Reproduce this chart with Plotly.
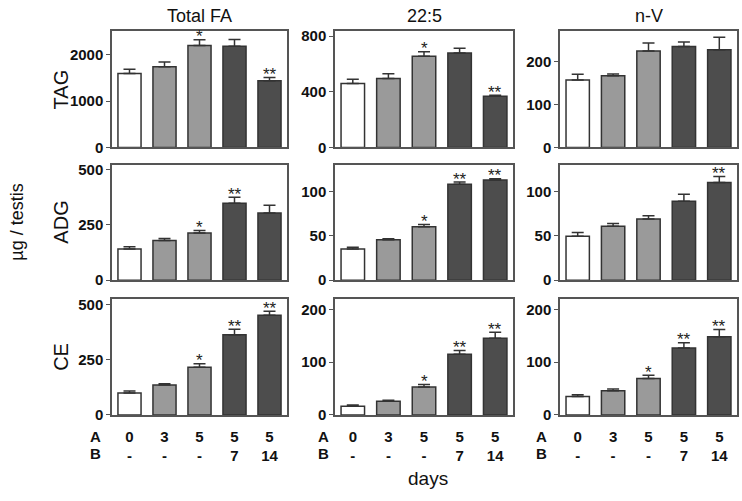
import plotly.graph_objects as go

# ---------------- data ----------------
categories = [0, 1, 2, 3, 4]
A_days = ["0", "3", "5", "5", "5"]
B_days = ["-", "-", "-", "7", "14"]
column_titles = ["Total FA", "22:5", "n-V"]
row_titles = ["TAG", "ADG", "CE"]

# TAG
tag_total = [1600, 1745, 2205, 2185, 1440]
tag_total_err = [90, 100, 125, 150, 70]
tag_total_sig = ["", "", "*", "", "**"]
tag_225 = [460, 495, 655, 680, 368]
tag_225_err = [30, 35, 33, 33, 8]
tag_225_sig = ["", "", "*", "", "**"]
tag_nv = [157, 167, 224, 235, 227]
tag_nv_err = [13, 4, 19, 10, 29]
tag_nv_sig = ["", "", "", "", ""]

# ADG
adg_total = [141, 179, 213, 348, 304]
adg_total_err = [10, 9, 12, 27, 34]
adg_total_sig = ["", "", "*", "**", ""]
adg_225 = [35.3, 45.7, 60.4, 108.2, 113]
adg_225_err = [2, 1, 2.5, 2.6, 1.5]
adg_225_sig = ["", "", "*", "**", "**"]
adg_nv = [49.7, 61, 69, 89, 110.4]
adg_nv_err = [4.3, 3, 3.8, 8, 6.6]
adg_nv_sig = ["", "", "", "", "**"]

# CE
ce_total = [99, 135, 215, 362, 450]
ce_total_err = [9, 6, 16, 25, 19]
ce_total_sig = ["", "", "*", "**", "**"]
ce_225 = [16.2, 26, 52.9, 115, 145]
ce_225_err = [2.4, 1.9, 4.9, 6.8, 11.5]
ce_225_sig = ["", "", "*", "**", "**"]
ce_nv = [34.8, 46, 68.9, 126.6, 147.9]
ce_nv_err = [3.2, 3, 6.1, 9.9, 14.1]
ce_nv_sig = ["", "", "*", "**", "**"]

y_max = [[2510, 835, 270], [520, 130, 130], [525, 220, 220]]
y_dtick = [[1000, 400, 100], [250, 50, 50], [250, 100, 100]]

bar_colors = ["#ffffff", "#9a9a9a", "#9a9a9a", "#4d4d4d", "#4d4d4d"]

panels = [
    [(tag_total, tag_total_err, tag_total_sig), (tag_225, tag_225_err, tag_225_sig), (tag_nv, tag_nv_err, tag_nv_sig)],
    [(adg_total, adg_total_err, adg_total_sig), (adg_225, adg_225_err, adg_225_sig), (adg_nv, adg_nv_err, adg_nv_sig)],
    [(ce_total, ce_total_err, ce_total_sig), (ce_225, ce_225_err, ce_225_sig), (ce_nv, ce_nv_err, ce_nv_sig)],
]

# ---------------- layout geometry ----------------
W, H = 742, 501
x_px = [(112, 287), (335, 513), (560, 737)]
y_px = [(28, 147), (165, 283), (302, 421)]

FONT = "Arial, Liberation Sans, sans-serif"
LINE = "#333333"
FRAME = "#555555"

fig = go.Figure()
layout = dict(
    width=W, height=H,
    margin=dict(l=0, r=0, t=0, b=0),
    paper_bgcolor="white", plot_bgcolor="white",
    showlegend=False,
    bargap=0.34,
    font=dict(family=FONT, color="#1a1a1a"),
)
annotations = []

for r in range(3):
    for c in range(3):
        idx = r * 3 + c + 1
        xa = "x" if idx == 1 else f"x{idx}"
        ya = "y" if idx == 1 else f"y{idx}"
        vals, errs, sig = panels[r][c]
        fig.add_trace(go.Bar(
            x=categories, y=vals,
            marker=dict(color=bar_colors, line=dict(color=LINE, width=1.5)),
            error_y=dict(type="data", array=errs, arrayminus=[0] * 5, symmetric=False,
                         color=LINE, thickness=1.5, width=6),
            xaxis=xa, yaxis=ya,
        ))
        x0, x1 = x_px[c]
        y0, y1 = y_px[r]
        bottom = r == 2
        layout["xaxis" + ("" if idx == 1 else str(idx))] = dict(
            domain=[x0 / W, x1 / W], anchor=ya,
            range=[-0.5, 4.5], showline=True, mirror=True, linecolor=FRAME, linewidth=1.5,
            showgrid=False, zeroline=False, ticks="",
            tickmode="array", tickvals=categories,
            ticktext=[f"<b>{a}</b><br><b>{b}</b>" for a, b in zip(A_days, B_days)],
            showticklabels=bottom, ticklabelstandoff=7,
            tickfont=dict(size=15, family=FONT, color="#111"),
            fixedrange=True,
        )
        layout["yaxis" + ("" if idx == 1 else str(idx))] = dict(
            domain=[1 - y1 / H, 1 - y0 / H], anchor=xa,
            range=[0, y_max[r][c]], dtick=y_dtick[r][c], tick0=0,
            showline=True, mirror=True, linecolor=FRAME, linewidth=1.5,
            showgrid=False, zeroline=False,
            ticks="outside", ticklen=4, tickwidth=1.2, tickcolor=FRAME,
            tickfont=dict(size=15, family=FONT, color="#111", weight="bold"),
            fixedrange=True,
        )
        for i, s in enumerate(sig):
            if s:
                annotations.append(dict(
                    x=categories[i], y=vals[i] + errs[i], xref=xa, yref=ya,
                    text=s, showarrow=False, xanchor="center", yanchor="middle", yshift=3,
                    borderpad=0,
                    font=dict(size=17, family=FONT, color="#222"),
                ))

def paper_text(xp, yp, text, size, angle=0):
    return dict(x=xp / W, y=1 - yp / H, xref="paper", yref="paper", text=text,
                showarrow=False, xanchor="center", yanchor="middle", textangle=angle,
                borderpad=0, font=dict(size=size, family=FONT, color="#111"))

for c in range(3):
    x0, x1 = x_px[c]
    annotations.append(paper_text((x0 + x1) / 2, 12, column_titles[c], 18))
for r in range(3):
    y0, y1 = y_px[r]
    annotations.append(paper_text(61, (y0 + y1) / 2, row_titles[r], 20, -90))
annotations.append(paper_text(17, 224, "\u00b5g / testis", 18, -90))
annotations.append(paper_text(428, 486, "days", 19))
for xc in [95, 323, 541]:
    annotations.append(paper_text(xc, 443, "<b>A</b>", 15))
    annotations.append(paper_text(xc, 461, "<b>B</b>", 15))

layout["annotations"] = annotations
fig.update_layout(**layout)
fig.write_html("out.html", config={"displayModeBar": False},
               post_script="document.body.style.margin='0';document.body.style.overflow='hidden';")
